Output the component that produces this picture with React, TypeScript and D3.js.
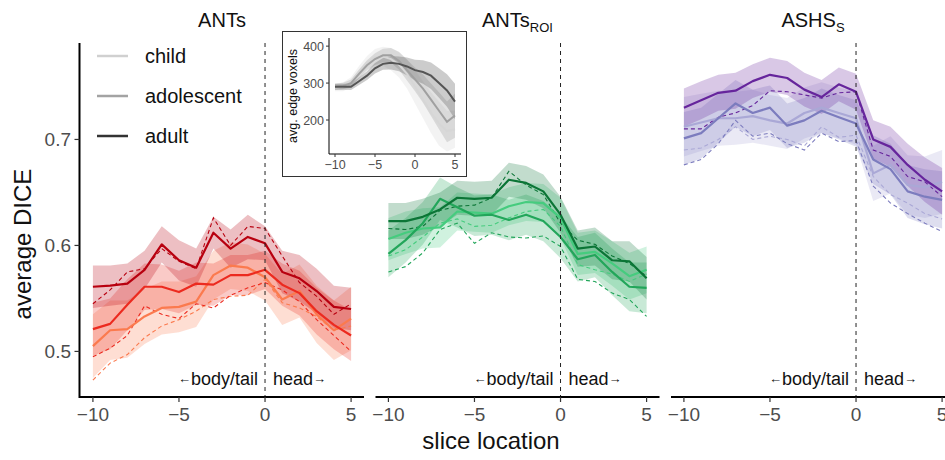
import React from "react";
import * as d3 from "d3";

const slices = [-10, -9, -8, -7, -6, -5, -4, -3, -2, -1, 0, 1, 2, 3, 4, 5];
const groups = ["child", "adolescent", "adult"];
const xTicks = [-10, -5, 0, 5];
const yTicks = [0.5, 0.6, 0.7];
const insetYTicks = [200, 300, 400];
const titles = ["ANTs", "ANTs", "ASHS"];
const subs = ["", "ROI", "S"];

// ANTs (reds)
const antsChildMean = [0.505, 0.52, 0.521, 0.533, 0.541, 0.542, 0.547, 0.572, 0.581, 0.579, 0.57, 0.549, 0.557, 0.535, 0.52, 0.531];
const antsChildDash = [0.473, 0.489, 0.497, 0.513, 0.524, 0.53, 0.538, 0.549, 0.552, 0.553, 0.568, 0.546, 0.541, 0.533, 0.52, 0.524];
const antsChildCI = [0.03, 0.028, 0.027, 0.026, 0.025, 0.024, 0.024, 0.023, 0.022, 0.022, 0.022, 0.024, 0.025, 0.027, 0.028, 0.03];
const antsAdolMean = [0.521, 0.526, 0.544, 0.561, 0.561, 0.556, 0.564, 0.563, 0.572, 0.572, 0.577, 0.563, 0.555, 0.538, 0.525, 0.515];
const antsAdolDash = [0.495, 0.503, 0.515, 0.543, 0.535, 0.531, 0.545, 0.541, 0.553, 0.56, 0.565, 0.558, 0.547, 0.53, 0.515, 0.5];
const antsAdolCI = [0.025, 0.024, 0.024, 0.022, 0.021, 0.02, 0.02, 0.02, 0.019, 0.019, 0.018, 0.02, 0.021, 0.022, 0.023, 0.024];
const antsAdultMean = [0.561, 0.562, 0.564, 0.577, 0.601, 0.586, 0.579, 0.612, 0.597, 0.608, 0.602, 0.575, 0.569, 0.557, 0.542, 0.54];
const antsAdultDash = [0.545, 0.558, 0.575, 0.578, 0.597, 0.585, 0.578, 0.626, 0.6, 0.618, 0.616, 0.59, 0.565, 0.552, 0.535, 0.545];
const antsAdultCI = [0.02, 0.019, 0.019, 0.018, 0.017, 0.019, 0.018, 0.015, 0.018, 0.021, 0.016, 0.02, 0.022, 0.021, 0.02, 0.02];

// ANTs ROI (greens)
const roiChildMean = [0.606, 0.612, 0.616, 0.617, 0.632, 0.631, 0.63, 0.637, 0.641, 0.64, 0.626, 0.592, 0.594, 0.583, 0.571, 0.577];
const roiChildDash = [0.59, 0.596, 0.608, 0.621, 0.625, 0.618, 0.619, 0.626, 0.632, 0.634, 0.618, 0.582, 0.577, 0.573, 0.566, 0.573];
const roiChildCI = [0.02, 0.02, 0.019, 0.019, 0.018, 0.018, 0.018, 0.018, 0.018, 0.018, 0.019, 0.02, 0.02, 0.021, 0.022, 0.022];
const roiAdolMean = [0.592, 0.605, 0.621, 0.644, 0.636, 0.628, 0.629, 0.624, 0.629, 0.623, 0.608, 0.587, 0.591, 0.575, 0.561, 0.56];
const roiAdolDash = [0.575, 0.58, 0.593, 0.615, 0.621, 0.602, 0.612, 0.608, 0.607, 0.609, 0.599, 0.568, 0.566, 0.555, 0.549, 0.533];
const roiAdolCI = [0.022, 0.021, 0.02, 0.02, 0.019, 0.019, 0.019, 0.019, 0.019, 0.019, 0.02, 0.021, 0.021, 0.022, 0.023, 0.024];
const roiAdultMean = [0.623, 0.623, 0.627, 0.634, 0.645, 0.644, 0.645, 0.662, 0.659, 0.651, 0.629, 0.597, 0.599, 0.586, 0.585, 0.569];
const roiAdultDash = [0.616, 0.615, 0.618, 0.633, 0.637, 0.638, 0.645, 0.67, 0.657, 0.648, 0.621, 0.605, 0.601, 0.59, 0.583, 0.571];
const roiAdultCI = [0.017, 0.017, 0.017, 0.016, 0.016, 0.016, 0.016, 0.016, 0.016, 0.016, 0.017, 0.017, 0.018, 0.018, 0.019, 0.02];

// ASHS S (purples)
const ashsChildMean = [0.712, 0.716, 0.72, 0.72, 0.722, 0.718, 0.715, 0.725, 0.73, 0.725, 0.72, 0.668, 0.676, 0.657, 0.655, 0.66];
const ashsChildDash = [0.69, 0.692, 0.7, 0.712, 0.7, 0.703, 0.7, 0.694, 0.712, 0.702, 0.704, 0.665, 0.648, 0.64, 0.63, 0.625];
const ashsChildCI = [0.028, 0.027, 0.026, 0.025, 0.025, 0.024, 0.024, 0.024, 0.024, 0.024, 0.025, 0.026, 0.027, 0.028, 0.029, 0.03];
const ashsAdolMean = [0.701, 0.706, 0.72, 0.734, 0.725, 0.73, 0.713, 0.718, 0.727, 0.721, 0.715, 0.681, 0.672, 0.651, 0.646, 0.643];
const ashsAdolDash = [0.676, 0.681, 0.696, 0.718, 0.703, 0.706, 0.696, 0.69, 0.706, 0.698, 0.699, 0.656, 0.64, 0.63, 0.621, 0.613];
const ashsAdolCI = [0.025, 0.024, 0.023, 0.022, 0.022, 0.021, 0.021, 0.021, 0.021, 0.021, 0.022, 0.023, 0.024, 0.025, 0.026, 0.027];
const ashsAdultMean = [0.73, 0.737, 0.744, 0.746, 0.755, 0.761, 0.758, 0.747, 0.74, 0.752, 0.745, 0.7, 0.693, 0.676, 0.662, 0.651];
const ashsAdultDash = [0.71, 0.71, 0.721, 0.725, 0.732, 0.746, 0.745, 0.742, 0.739, 0.744, 0.745, 0.69, 0.684, 0.665, 0.66, 0.646];
const ashsAdultCI = [0.018, 0.018, 0.017, 0.017, 0.016, 0.016, 0.016, 0.016, 0.016, 0.016, 0.017, 0.018, 0.019, 0.02, 0.021, 0.022];

// inset: average edge voxels
const edgeChildMean = [288, 290, 302, 330, 355, 370, 372, 365, 350, 325, 290, 255, 220, 190, 170, 175];
const edgeChildCI = [10, 12, 14, 16, 18, 22, 26, 30, 35, 40, 45, 50, 55, 60, 55, 50];
const edgeAdolMean = [290, 292, 300, 325, 348, 365, 375, 375, 360, 335, 310, 285, 255, 225, 195, 212];
const edgeAdolCI = [8, 9, 10, 12, 14, 16, 18, 20, 24, 28, 32, 38, 44, 50, 55, 60];
const edgeAdultMean = [290, 290, 290, 305, 320, 340, 352, 355, 352, 345, 335, 330, 320, 300, 280, 250];
const edgeAdultCI = [8, 8, 9, 10, 12, 14, 16, 18, 20, 24, 28, 32, 36, 40, 44, 48];

const panelColors = [
  ["#fb7a4e", "#ec2a1f", "#b8000f"],
  ["#45cc7e", "#22a65a", "#0b7536"],
  ["#aaa8d6", "#7c7cbe", "#66259c"],
];
const legendColors = ["#d0d0d0", "#a3a3a3", "#333333"];
const insetColors = ["#d6d6d6", "#a0a0a0", "#555555"];

const panelMeans = [
  [antsChildMean, antsAdolMean, antsAdultMean],
  [roiChildMean, roiAdolMean, roiAdultMean],
  [ashsChildMean, ashsAdolMean, ashsAdultMean],
];
const panelDashes = [
  [antsChildDash, antsAdolDash, antsAdultDash],
  [roiChildDash, roiAdolDash, roiAdultDash],
  [ashsChildDash, ashsAdolDash, ashsAdultDash],
];
const panelCIs = [
  [antsChildCI, antsAdolCI, antsAdultCI],
  [roiChildCI, roiAdolCI, roiAdultCI],
  [ashsChildCI, ashsAdolCI, ashsAdultCI],
];
const insetMeans = [edgeChildMean, edgeAdolMean, edgeAdultMean];
const insetCIs = [edgeChildCI, edgeAdolCI, edgeAdultCI];

const FONT = "'Liberation Sans', Arial, Helvetica, sans-serif";
const fmtTick = (d: number) => (d < 0 ? "\u2212" + Math.abs(d) : String(d));

const W = 945;
const H = 460;
const TOP = 43;
const BOTTOM = 397;
const PANEL_W = 284;
const panelLefts = [80, 375.5, 671];

export default function App() {
  const y = d3.scaleLinear().domain([0.457, 0.791]).range([BOTTOM, TOP]);

  const ix = d3.scaleLinear().domain([-10.75, 5.75]).range([329, 461]);
  const iy = d3.scaleLinear().domain([108, 422]).range([154, 38]);

  return (
    <svg width={W} height={H} style={{ position: "absolute", left: 0, top: 0, background: "#fff" }} fontFamily={FONT}>
      <rect x={0} y={0} width={W} height={H} fill="#fff" />
      {panelLefts.map((left, p) => {
        const x = d3.scaleLinear().domain([-10.75, 5.75]).range([left, left + PANEL_W]);
        const line = (vals: number[]) =>
          d3.line<number>().x((_, i) => x(slices[i])).y((d) => y(d))(vals) || "";
        const area = (m: number[], ci: number[]) =>
          d3
            .area<number>()
            .x((_, i) => x(slices[i]))
            .y0((d, i) => y(d - ci[i]))
            .y1((d, i) => y(d + ci[i]))(m) || "";
        const x0 = x(0);
        return (
          <g key={p}>
            {groups.map((g, gi) => (
              <path key={"a" + g} d={area(panelMeans[p][gi], panelCIs[p][gi])} fill={panelColors[p][gi]} fillOpacity={0.25} stroke="none" />
            ))}
            {groups.map((g, gi) => (
              <path key={"d" + g} d={line(panelDashes[p][gi])} fill="none" stroke={panelColors[p][gi]} strokeWidth={1.1} strokeDasharray="4,3" />
            ))}
            {groups.map((g, gi) => (
              <path key={"m" + g} d={line(panelMeans[p][gi])} fill="none" stroke={panelColors[p][gi]} strokeWidth={2.2} strokeLinejoin="round" />
            ))}
            <line x1={x0} x2={x0} y1={TOP} y2={BOTTOM} stroke="#222" strokeWidth={1} strokeDasharray="4,4" />
            <text x={x0 - 7} y={385} textAnchor="end" fontSize={18} fill="#111">
              <tspan fontSize={13} dy={-2}>{"\u2190"}</tspan>
              <tspan dy={2}>body/tail</tspan>
            </text>
            <text x={x0 + 8} y={385} textAnchor="start" fontSize={18} fill="#111">
              <tspan>head</tspan>
              <tspan fontSize={13} dy={-2}>{"\u2192"}</tspan>
            </text>
            {/* x axis */}
            <line x1={left} x2={left + PANEL_W} y1={BOTTOM} y2={BOTTOM} stroke="#000" strokeWidth={2} />
            {xTicks.map((t) => (
              <g key={t}>
                <line x1={x(t)} x2={x(t)} y1={BOTTOM} y2={BOTTOM + 5} stroke="#333" strokeWidth={1.2} />
                <text x={x(t)} y={421} textAnchor="middle" fontSize={19} fill="#4d4d4d">
                  {fmtTick(t)}
                </text>
              </g>
            ))}
            <text x={left + PANEL_W / 2} y={27} textAnchor="middle" fontSize={20} fill="#111">
              {titles[p]}
              {subs[p] ? (
                <tspan fontSize={13} dy={5}>
                  {subs[p]}
                </tspan>
              ) : null}
            </text>
          </g>
        );
      })}

      {/* y axis */}
      <line x1={79.5} x2={79.5} y1={TOP} y2={BOTTOM + 1} stroke="#000" strokeWidth={2} />
      {yTicks.map((t) => (
        <g key={t}>
          <line x1={74.5} x2={79.5} y1={y(t)} y2={y(t)} stroke="#333" strokeWidth={1.2} />
          <text x={71} y={y(t) + 7} textAnchor="end" fontSize={19} fill="#4d4d4d">
            {t.toFixed(1)}
          </text>
        </g>
      ))}
      <text transform={`translate(31,244) rotate(-90)`} textAnchor="middle" fontSize={24} fill="#111">
        average DICE
      </text>
      <text x={491} y={449} textAnchor="middle" fontSize={24} fill="#111">
        slice location
      </text>

      {/* legend */}
      {groups.map((g, gi) => (
        <g key={g}>
          <line x1={97} x2={128} y1={56 + gi * 40} y2={56 + gi * 40} stroke={legendColors[gi]} strokeWidth={2.5} />
          <text x={145} y={56 + gi * 40 + 7} fontSize={20} fill="#111">
            {g}
          </text>
        </g>
      ))}

      {/* inset */}
      <g>
        <rect x={282.5} y={31.5} width={184} height={145} fill="#fff" stroke="#333" strokeWidth={1} />
        {groups.map((g, gi) => (
          <path
            key={"ia" + g}
            d={
              d3
                .area<number>()
                .x((_, i) => ix(slices[i]))
                .y0((d, i) => iy(d - insetCIs[gi][i]))
                .y1((d, i) => iy(d + insetCIs[gi][i]))(insetMeans[gi]) || ""
            }
            fill={insetColors[gi]}
            fillOpacity={0.3}
          />
        ))}
        {groups.map((g, gi) => (
          <path
            key={"il" + g}
            d={d3.line<number>().x((_, i) => ix(slices[i])).y((d) => iy(d))(insetMeans[gi]) || ""}
            fill="none"
            stroke={insetColors[gi]}
            strokeWidth={2}
          />
        ))}
        <line x1={329} x2={329} y1={38} y2={154} stroke="#000" strokeWidth={1} />
        <line x1={329} x2={461} y1={154} y2={154} stroke="#000" strokeWidth={1} />
        {insetYTicks.map((t) => (
          <g key={t}>
            <line x1={326} x2={329} y1={iy(t)} y2={iy(t)} stroke="#333" />
            <text x={324} y={iy(t) + 4.5} textAnchor="end" fontSize={12.5} fill="#4d4d4d">
              {t}
            </text>
          </g>
        ))}
        {xTicks.map((t) => (
          <g key={t}>
            <line x1={ix(t)} x2={ix(t)} y1={154} y2={157} stroke="#333" />
            <text x={ix(t)} y={169} textAnchor="middle" fontSize={12.5} fill="#4d4d4d">
              {fmtTick(t)}
            </text>
          </g>
        ))}
        <text transform={`translate(297,96) rotate(-90)`} textAnchor="middle" fontSize={12.5} fill="#111">
          avg. edge voxels
        </text>
      </g>
    </svg>
  );
}
